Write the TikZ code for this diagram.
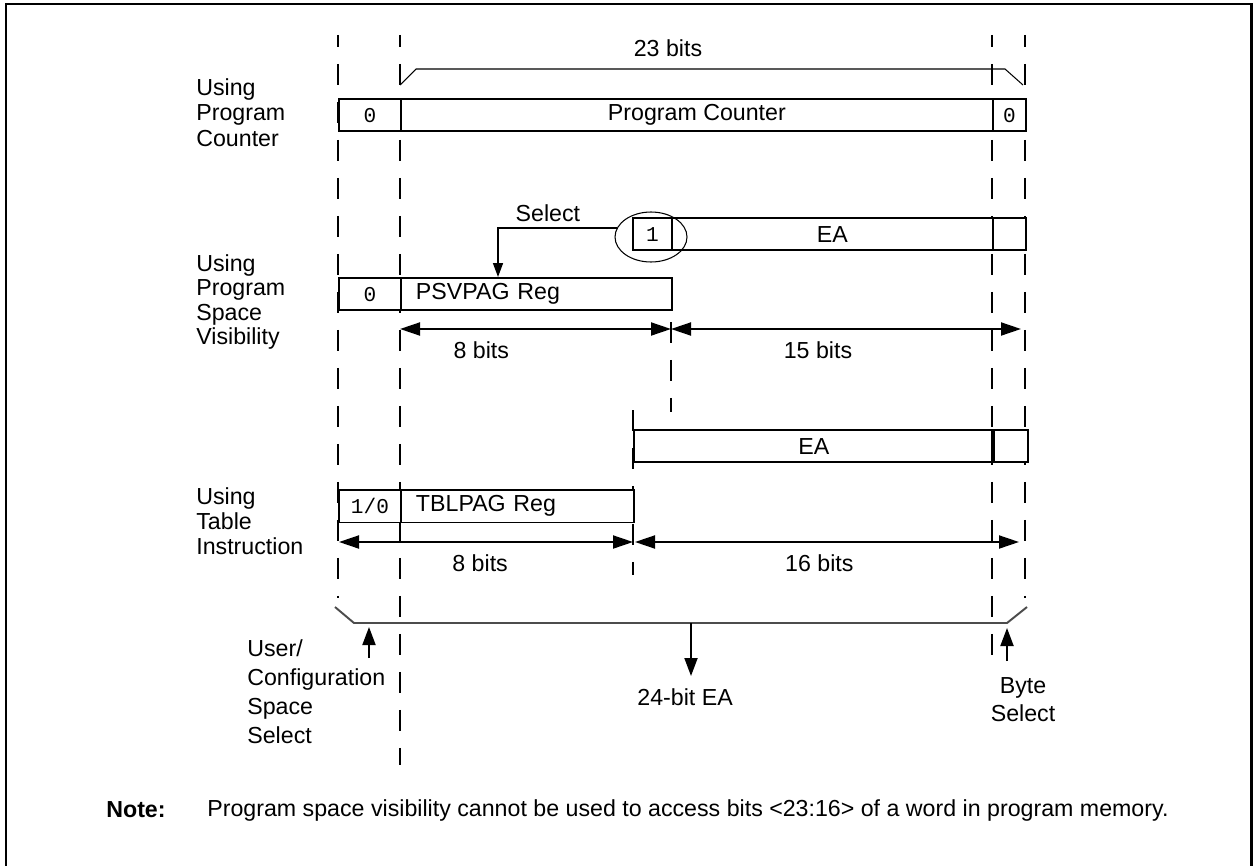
\documentclass[tikz,border=0pt]{standalone}
\usepackage{fontspec}
\setmainfont{Liberation Sans}
\setmonofont{Liberation Mono}
\usetikzlibrary{arrows.meta,shapes.geometric}
\tikzset{
field/.style={draw,line width=1.1pt,fill=white,inner sep=0pt,anchor=north west,minimum height=0.65cm},
bitval/.style={font=\fontsize{12}{14}\selectfont\ttfamily},
guide/.style={line width=1.1pt,dash pattern=on 0.42cm off 0.34cm},
dim/.style={line width=1.1pt,{Triangle[length=0.4cm,width=0.26cm]}-{Triangle[length=0.4cm,width=0.26cm]}},
pointer/.style={line width=1.1pt,-{Triangle[length=0.36cm,width=0.26cm]}},
brace/.style={line width=0.6pt},
rowlabel/.style={anchor=north west,align=left,inner sep=0pt},
}
\tikzstyle{tag} = [inner sep=0pt]

\begin{document}
\begin{tikzpicture}[x=0.02cm,y=-0.02cm,font=\fontsize{13.2}{15}\selectfont]
\useasboundingbox (0,0) rectangle (1253,865);
\draw[line width=1.7pt] (6,870) -- (6,4) -- (1251,4) -- (1251,870);

% guide lines
\draw[guide,dash phase=0.18cm] (338,35) -- (338,598);
\draw[guide,dash phase=0.18cm] (400,35) -- (400,765);
\draw[guide,dash phase=0.18cm] (992,35) -- (992,661);
\draw[guide,dash phase=0.18cm] (1025,35) -- (1025,598);
\draw[guide] (671,322) -- (671,412);
\draw[guide] (633,410) -- (633,575);

% program counter
\node[tag] (width) at (668,48) {23 bits};
\draw[brace] (400,85) -- (416,69) -- (1005,69) -- (1023,85);
\node[field,bitval,minimum width=1.24cm] (pcZero) at (338,98) {0};
\node[field,minimum width=11.84cm] (pcMain) at (400,98) {Program Counter};
\node[field,bitval,minimum width=0.66cm] (pcByte) at (992,98) {0};
\node[rowlabel,font=\fontsize{13.2}{14.7}\selectfont] (lblPC) at (196,78) {Using\\Program\\Counter};

% program space visibility
\node[field,bitval,minimum width=0.78cm] (selBit) at (632,217) {1};
\node[field,minimum width=6.42cm] (psvEA) at (671,217) {EA};
\node[field,minimum width=0.66cm] (psvByte) at (992,217) {};
\node[field,bitval,minimum width=1.24cm] (psvZero) at (338,277) {0};
\node[field,minimum width=5.42cm,text width=4.82cm,inner xsep=0.3cm,align=left] (psvPag) at (400,277) {PSVPAG Reg};
\node[draw,ellipse,line width=0.6pt,minimum width=1.44cm,minimum height=1.0cm] (selRing) at (651,237) {};
\coordinate (selDrop) at (498,277);
\draw[line width=0.9pt,-{Triangle[length=0.28cm,width=0.2cm]}] (selRing.165) -| node[tag,pos=0.29,above=0.11cm] {Select} (selDrop);
\coordinate (psvL) at (400,329);
\coordinate (psvM) at (671,329);
\coordinate (psvR) at (1021,329);
\draw[dim] (psvL) -- node[tag,pos=0.3,below=0.23cm] {8 bits} (psvM);
\draw[dim] (psvM) -- node[tag,pos=0.42,below=0.23cm] {15 bits} (psvR);
\node[rowlabel,font=\fontsize{13.2}{13.9}\selectfont] (lblPSV) at (196,254) {Using\\Program\\Space\\Visibility};

% table instruction
\node[field,minimum width=7.2cm] (tblEA) at (633,429) {EA};
\node[field,minimum width=0.68cm] (tblByte) at (993,429) {};
\draw[line width=1.8pt] (tblByte.north west) -- (tblByte.south west);
\node[field,bitval,minimum width=1.24cm] (tblZero) at (338,489) {1/0};
\node[field,minimum width=4.66cm,text width=4.06cm,inner xsep=0.3cm,align=left] (tblPag) at (400,489) {TBLPAG Reg};
\coordinate (tblL) at (339,542);
\coordinate (tblM) at (633,542);
\coordinate (tblN) at (635,542);
\coordinate (tblR) at (1019,542);
\draw[dim] (tblL) -- node[tag,pos=0.48,below=0.23cm] {8 bits} (tblM);
\draw[dim] (tblN) -- node[tag,pos=0.48,below=0.23cm] {16 bits} (tblR);
\node[rowlabel,font=\fontsize{13.2}{14.2}\selectfont] (lblTBL) at (196,487) {Using\\Table\\Instruction};

% 24-bit EA
\draw[black!70,line width=1.1pt] (335,607) -- (354,623) -- (1007,623) -- (1027,607);
\coordinate (eaTap) at (691,623);
\coordinate (eaTip) at (691,676);
\draw[pointer] (eaTap) -- (eaTip);
\node[tag,anchor=west] (lblEA) at (637,697) {24-bit EA};
\coordinate (cfgTail) at (369,658);
\coordinate (cfgTip) at (369,627);
\draw[pointer] (cfgTail) -- (cfgTip);
\node[rowlabel,font=\fontsize{13.2}{16.5}\selectfont] (lblCfg) at (247,639) {User/\\Configuration\\Space\\Select};
\coordinate (byteTail) at (1007,661);
\coordinate (byteTip) at (1007,628);
\draw[pointer] (byteTail) -- (byteTip);
\node[tag,anchor=north,align=center,font=\fontsize{13.2}{16}\selectfont] (lblByte) at (1023,677) {Byte\\Select};

% note
\node[tag,anchor=west,font=\fontsize{13.2}{15}\bfseries] (note) at (106,810) {Note:};
\node[tag,anchor=west] (noteText) at (207,810) {Program space visibility cannot be used to access bits <23:16> of a word in program memory.};
\end{tikzpicture}
\end{document}
